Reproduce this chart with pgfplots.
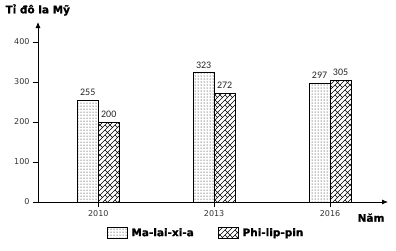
\documentclass[border=0pt]{standalone}
\usepackage{fontspec}
\setmainfont{DejaVu Sans}
\newfontfamily\calib{Carlito}
\newfontfamily\bsans{DejaVu Sans Bold}[FakeBold=1.2]
\usepackage{pgfplots}
\pgfplotsset{compat=1.18}
\usetikzlibrary{patterns,arrows.meta}
\pgfdeclarepatternformonly{diagbricks}{\pgfpoint{-1pt}{-1pt}}{\pgfpoint{11pt}{11pt}}{\pgfpoint{10pt}{10pt}}{
  \pgfsetlinewidth{0.6pt}
  \pgfpathmoveto{\pgfpoint{0pt}{0pt}}\pgfpathlineto{\pgfpoint{10pt}{10pt}}
  \pgfpathmoveto{\pgfpoint{0pt}{5pt}}\pgfpathlineto{\pgfpoint{5pt}{10pt}}
  \pgfpathmoveto{\pgfpoint{5pt}{0pt}}\pgfpathlineto{\pgfpoint{10pt}{5pt}}
  \pgfpathmoveto{\pgfpoint{2.5pt}{2.5pt}}\pgfpathlineto{\pgfpoint{0pt}{5pt}}
  \pgfpathmoveto{\pgfpoint{7.5pt}{2.5pt}}\pgfpathlineto{\pgfpoint{5pt}{5pt}}
  \pgfpathmoveto{\pgfpoint{5pt}{10pt}}\pgfpathlineto{\pgfpoint{7.5pt}{7.5pt}}
  \pgfpathmoveto{\pgfpoint{10pt}{5pt}}\pgfpathlineto{\pgfpoint{7.5pt}{7.5pt}}
  \pgfusepath{stroke}
}
\begin{document}
\begin{tikzpicture}
\useasboundingbox (0,0) rectangle (396pt,250pt);
\begin{axis}[
  at={(38pt,48pt)}, anchor=south west,
  scale only axis, width=350pt, height=180pt,
  xmin=-0.52, xmax=2.5, ymin=0, ymax=450,
  axis lines=left,
  axis line style={-{Latex[length=6pt,width=5pt]}, line width=0.8pt},
  ybar=0pt, bar width=21pt,
  xtick={0,1,2}, xticklabels={2010,2013,2016},
  ytick={0,100,200,300,400},
  tick align=outside, major tick length=5pt,
  tick style={black, line width=0.6pt},
  /pgf/number format/assume math mode=true,
  tick label style={font=\fontsize{8}{9}\selectfont, text=black!80},
  every axis y label/.style={at={(axis description cs:0,1)}, anchor=west, xshift=-36pt, yshift=12pt, font=\bsans\fontsize{10.5}{12}\selectfont},
  every axis x label/.style={at={(axis description cs:1,0)}, anchor=north east, yshift=-8pt, font=\bsans\fontsize{10.5}{12}\selectfont},
  ylabel={Tỉ đô la Mỹ}, xlabel={Năm},
  nodes near coords,
  every node near coord/.append style={font=\calib\fontsize{10}{11}\selectfont, text=black!85, yshift=1pt},
  legend style={at={(axis description cs:0.48,0)}, anchor=north, yshift=-22pt, draw=none, legend columns=2,
    font=\bsans\fontsize{10.5}{12}\selectfont, /tikz/every even column/.append style={column sep=22pt},
    /tikz/every odd column/.append style={column sep=2pt}},
  legend image code/.code={\draw[#1, line width=0.8pt] (-2pt,-5.5pt) rectangle (18pt,5.5pt);},
]
\addplot[draw=black, line width=0.8pt, pattern=dots] coordinates {(0,255) (1,323) (2,297)};
\addplot[draw=black, line width=0.8pt, pattern=diagbricks] coordinates {(0,200) (1,272) (2,305)};
\legend{Ma-lai-xi-a, Phi-lip-pin}
\end{axis}
\end{tikzpicture}
\end{document}
